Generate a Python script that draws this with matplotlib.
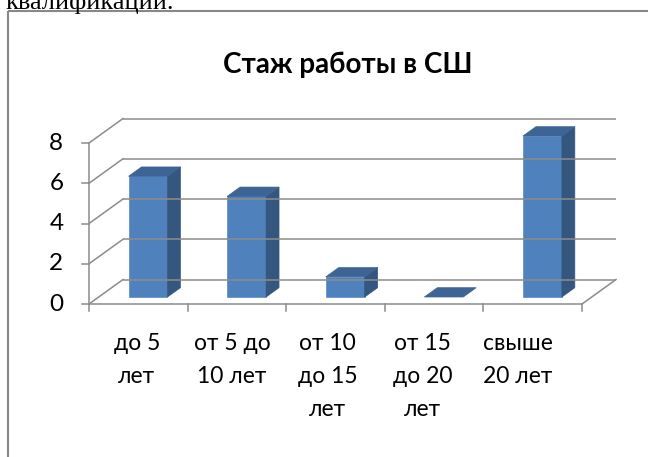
import matplotlib.pyplot as plt
from matplotlib.patches import Polygon

# data
categories = ["до 5\nлет", "от 5 до\n10 лет", "от 10\nдо 15\nлет", "от 15\nдо 20\nлет", "свыше\n20 лет"]
values = [6, 5, 1, 0, 8]
y_ticks = [0, 2, 4, 6, 8]
title = "Стаж работы в СШ"
page_text = "квалификации."

FRONT = "#4f81bd"
SIDE = "#34567f"
TOP = "#3d6494"
GRID = "#8c8c8c"

# 3d look: back wall offset, bar placement in depth
DX, DY = 0.345, 1.217
f_front, f_depth = 0.286, 0.38
bar_w = 0.395

fig = plt.figure(figsize=(6.48, 4.57), dpi=100)
ax = fig.add_axes([0, 0, 1, 1])
ax.set_xlim(-0.9026, 5.6694)
ax.set_ylim(-7.602, 15.106)
ax.axis("off")

n = len(categories)
ymax = max(y_ticks)

# back wall gridlines and left wall diagonals
for t in y_ticks:
    ax.plot([DX, n + DX], [t + DY, t + DY], color=GRID, lw=1.1, solid_capstyle="butt")
    ax.plot([0, DX], [t, t + DY], color=GRID, lw=1.1)
    ax.plot([-0.07, 0], [t, t], color=GRID, lw=1.1)
    ax.text(-0.26, t, str(t), ha="right", va="center", fontsize=17.5, family="Lato")

# front vertical axis and floor
ax.plot([0, 0], [0, ymax], color=GRID, lw=1.1)
ax.plot([0, n], [0, 0], color=GRID, lw=1.1)
ax.plot([n, n + DX], [0, DY], color=GRID, lw=1.1)
for i in range(n + 1):
    ax.plot([i, i], [0, -0.35], color=GRID, lw=1.1)

# bars
for i, v in enumerate(values):
    x0 = i + 0.5 - bar_w / 2 + f_front * DX
    y0 = f_front * DY
    x1 = x0 + bar_w
    ddx, ddy = f_depth * DX, f_depth * DY
    if v > 0:
        ax.add_patch(Polygon([(x0, y0), (x1, y0), (x1, y0 + v), (x0, y0 + v)],
                             closed=True, fc=FRONT, ec="#5b8bc6", lw=0.5))
        ax.add_patch(Polygon([(x1, y0), (x1 + ddx, y0 + ddy), (x1 + ddx, y0 + ddy + v), (x1, y0 + v)],
                             closed=True, fc=SIDE, ec=SIDE, lw=0.5))
    ax.add_patch(Polygon([(x0, y0 + v), (x1, y0 + v), (x1 + ddx, y0 + v + ddy), (x0 + ddx, y0 + v + ddy)],
                         closed=True, fc=TOP, ec=TOP, lw=0.5))

# category labels, one line at a time
for i, lab in enumerate(categories):
    xc = i + 0.5 - 0.015 - 0.034 * i
    for k, line in enumerate(lab.split("\n")):
        ax.text(xc, -2.286 - 1.64 * k, line, ha="center", va="baseline", fontsize=16.5, family="Lato")

# title
ax.text(2.627, 11.48, title, ha="center", va="baseline", fontsize=20, fontweight="bold", family="Lato")

# frame of the embedded chart and the cut page text above it
ax.plot([-0.8265, -0.8265], [-7.7, 14.56], color="#888888", lw=1.5, solid_capstyle="butt")
ax.plot([-0.8265, 5.7], [14.56, 14.56], color="#888888", lw=1.5, solid_capstyle="butt")
ax.text(-0.845, 14.66, page_text, ha="left", va="baseline", fontsize=19, family="Liberation Serif")

fig.savefig("out.png", dpi=100)
